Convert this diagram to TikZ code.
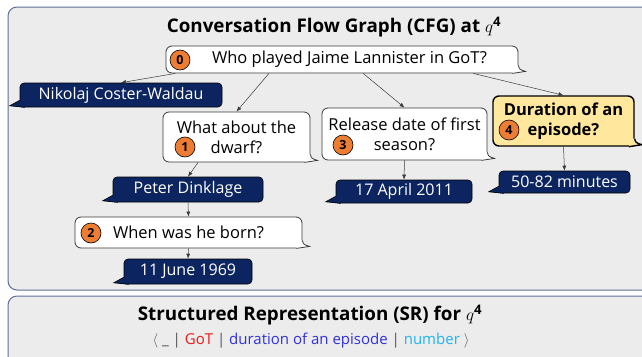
\documentclass[tikz,border=0pt]{standalone}
\usepackage{amsmath}
\usepackage{fontspec}
\setmainfont{Open Sans}
\usetikzlibrary{calc,arrows.meta}
\definecolor{panelfill}{HTML}{ECECEC}
\definecolor{paneldraw}{HTML}{5E7096}
\definecolor{qborder}{HTML}{3A3A3A}
\definecolor{navy}{HTML}{0C2560}
\definecolor{badgeorange}{HTML}{EC7D33}
\definecolor{focusyellow}{HTML}{FFE79D}
\definecolor{flowgray}{HTML}{3C3C3C}
\definecolor{sepgray}{HTML}{555555}
\definecolor{srred}{HTML}{F01818}
\definecolor{srblue}{HTML}{3030E0}
\definecolor{srcyan}{HTML}{20B4F0}
\tikzset{>={Latex[length=5pt,width=4pt]}}

% speech bubble tails
\newcommand{\tailright}[3]{%
  \fill[#2] ($(#1.south east)+(0,-8)$) .. controls ($(#1.south east)+(1,-4)$) .. ($(#1.south east)+(7,-2)$) -- ($(#1.south east)+(-6,0.4)$) -- ($(#1.south east)+(-6,-8)$) -- cycle;
  \draw[#3] ($(#1.south east)+(0,-8)$) .. controls ($(#1.south east)+(1,-4)$) .. ($(#1.south east)+(7,-2)$) -- ($(#1.south east)+(-6,0)$);
}
\newcommand{\tailleft}[3]{%
  \fill[#2] ($(#1.south west)+(0,-7)$) -- ($(#1.south west)+(-10,-1.5)$) -- ($(#1.south west)+(5,0.4)$) -- ($(#1.south west)+(5,-7)$) -- cycle;
  \draw[#3] ($(#1.south west)+(0,-7)$) -- ($(#1.south west)+(-10,-1.5)$) -- ($(#1.south west)+(5,0)$);
}

\begin{document}
\begin{tikzpicture}[x=1pt,y=-1pt,
    panel/.style={draw=paneldraw, fill=panelfill, line width=1pt, rounded corners=9pt},
    heading/.style={font=\bfseries\fontsize{18.8}{22}\selectfont},
    question/.style={draw=qborder, fill=white, line width=0.8pt, rounded corners=6pt, inner sep=0pt, align=center, font=\fontsize{16.5}{20}\selectfont},
    focus/.style={question, draw=black, fill=focusyellow, line width=1.4pt, font=\bfseries\fontsize{16.5}{20}\selectfont},
    answer/.style={draw=black, fill=navy, text=white, line width=0.6pt, rounded corners=4pt, inner sep=0pt, font=\fontsize{16}{20}\selectfont},
    badge/.style={circle, draw=black, fill=badgeorange, line width=0.6pt, minimum size=20pt, inner sep=0pt, font=\bfseries\fontsize{12.5}{12.5}\selectfont},
    flow/.style={->, draw=flowgray, line width=0.5pt}
  ]
  \useasboundingbox (0,0) rectangle (642,356);
  \clip (0,0) rectangle (642,356);

  % panels
  \draw[panel] (8,7) rectangle (662,290);
  \draw[panel] (8,296) rectangle (662,380);
  \node[heading] (cfgtitle) at (334,27) {Conversation Flow Graph (CFG) at $q^{\textbf{4}}$};
  \node[heading] (srtitle) at (310,315) {Structured Representation (SR) for $q^{\textbf{4}}$};
  \node[font=\fontsize{15}{18}\selectfont] (srline) at (311,341) {\textcolor{sepgray}{$\langle$ \_ |} \textcolor{srred}{GoT} \textcolor{sepgray}{|} \textcolor{srblue}{duration of an episode} \textcolor{sepgray}{|} \textcolor{srcyan}{number} \textcolor{sepgray}{$\rangle$}};

  % questions and answers
  \node[question, minimum width=352pt, minimum height=27pt] (q0) at (342,59.5) {\hspace*{15pt}Who played Jaime Lannister in GoT?};
  \tailright{q0}{white}{draw=qborder, line width=0.8pt}
  \node[answer, minimum width=202pt, minimum height=24pt] (a0) at (121,95) {Nikolaj Coster-Waldau};
  \tailleft{a0}{navy}{draw=black, line width=0.6pt}

  \node[question, minimum width=147pt, minimum height=50pt] (q1) at (236.5,137) {What about the\\dwarf?};
  \tailright{q1}{white}{draw=qborder, line width=0.8pt}
  \node[answer, minimum width=150pt, minimum height=25pt] (a1) at (188,189.5) {Peter Dinklage};
  \tailleft{a1}{navy}{draw=black, line width=0.6pt}

  \node[question, minimum width=227pt, minimum height=31pt] (q2) at (188.5,232.5) {When was he born?};
  \tailright{q2}{white}{draw=qborder, line width=0.8pt}
  \node[answer, minimum width=128pt, minimum height=25pt] (a2) at (188,271.5) {11 June 1969};
  \tailleft{a2}{navy}{draw=black, line width=0.6pt}

  \node[question, minimum width=165pt, minimum height=52pt] (q3) at (404.5,134) {Release date of first\\season?};
  \tailright{q3}{white}{draw=qborder, line width=0.8pt}
  \node[answer, minimum width=136pt, minimum height=23pt] (a3) at (404,191.5) {17 April 2011};
  \tailleft{a3}{navy}{draw=black, line width=0.6pt}

  \node[focus, minimum width=141pt, minimum height=50pt] (q4) at (563.5,121) {Duration of an\\episode?};
  \tailright{q4}{focusyellow}{draw=black, line width=1.4pt}
  \node[answer, minimum width=131pt, minimum height=22pt] (a4) at (564.5,182) {50-82 minutes};
  \tailleft{a4}{navy}{draw=black, line width=0.6pt}

  % turn numbers
  \node[badge] (b0) at (180,60) {0};
  \node[badge] (b1) at (185,147) {1};
  \node[badge] (b2) at (91,233) {2};
  \node[badge] (b3) at (343,145) {3};
  \node[badge] (b4) at (509,130) {4};

  % flow
  \draw[flow] ($(q0.south west)!0.028!(q0.south east)$) -- (a0.north);
  \draw[flow] ($(q0.south west)!0.293!(q0.south east)$) -- (q1.north);
  \draw[flow] ($(q0.south west)!0.56!(q0.south east)$) -- (q3.north);
  \draw[flow] ($(q0.south west)!0.872!(q0.south east)$) -- (q4.north);
  \draw[flow] ($(q1.south west)!0.24!(q1.south east)$) -- (a1.north);
  \draw[flow] (a1.south) -- (q2.north);
  \draw[flow] (q2.south) -- (a2.north);
  \draw[flow] (q3.south) -- (a3.north);
  \draw[flow] (q4.south) -- (a4.north);
\end{tikzpicture}
\end{document}
